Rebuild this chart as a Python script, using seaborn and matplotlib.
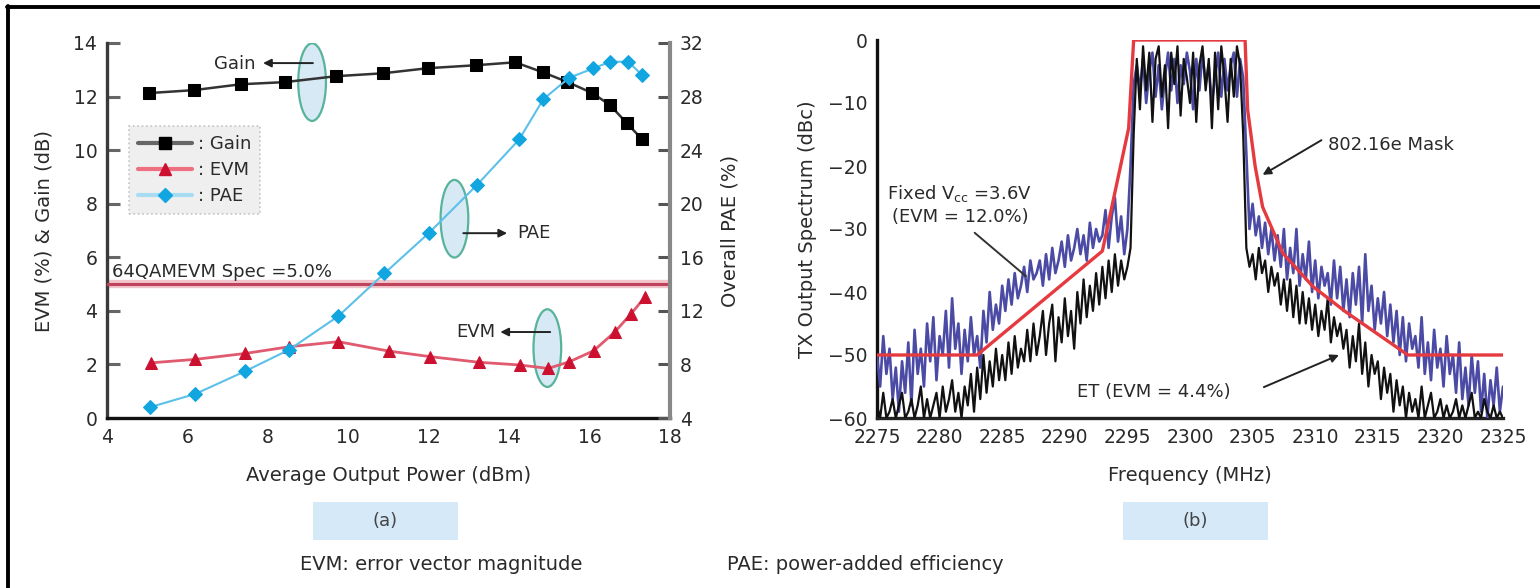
import numpy as np
import pandas as pd
import matplotlib
matplotlib.use("Agg")
import matplotlib.pyplot as plt
import seaborn as sns
from matplotlib.patches import Ellipse, Rectangle
from matplotlib.lines import Line2D

# ---------------- data: panel (a) ----------------
gain_x = [5.04, 6.16, 7.33, 8.43, 9.69, 10.87, 11.98, 13.18, 14.15, 14.85, 15.44, 16.07, 16.51, 16.93, 17.31]
gain_db = [12.13, 12.24, 12.46, 12.54, 12.76, 12.87, 13.06, 13.17, 13.28, 12.9, 12.55, 12.13, 11.68, 11.0, 10.4]

evm_x = [5.1, 6.2, 7.44, 8.53, 9.75, 11.0, 12.04, 13.25, 14.26, 14.97, 15.5, 16.1, 16.62, 17.02, 17.37]
evm_pct = [2.06, 2.19, 2.41, 2.66, 2.85, 2.5, 2.29, 2.08, 1.98, 1.85, 2.1, 2.51, 3.2, 3.87, 4.5]

pae_x = [5.06, 6.2, 7.44, 8.53, 9.75, 10.9, 12.0, 13.2, 14.25, 14.85, 15.49, 16.09, 16.51, 16.96, 17.31]
pae_pct = [4.8, 5.8, 7.5, 9.1, 11.6, 14.8, 17.8, 21.4, 24.8, 27.8, 29.4, 30.1, 30.6, 30.6, 29.6]

evm_spec = 5.0

# ---------------- data: panel (b) ----------------
freq_start, freq_step, n_pts = 2275.0, 0.25, 201
freq_mhz = freq_start + freq_step * np.arange(n_pts)

fixed_vcc_dbc = [
    -50, -55, -47, -53,  -49, -57, -52, -59,  -51, -56, -48, -58,  -46, -53, -49, -55,   # 2275-2278
    -45, -51, -44, -54,  -47, -50, -43, -52,  -41, -49, -45, -53,  -46, -51, -44, -50,   # 2279-2282
    -47, -52, -43, -48,  -40, -46, -42, -45,  -39, -43, -38, -42,  -37, -41, -39, -36,   # 2283-2286
    -40, -35, -38, -37,  -35, -39, -34, -38,  -33, -37, -35, -32,  -36, -31, -35, -33,   # 2287-2290
    -30, -34, -31, -35,  -29, -33, -30, -32,  -31, -27, -33, -28,  -25, -32, -28, -34,   # 2291-2294
    -30, -20, -7, -4,    -8, -3, -10, -5,     -2, -9, -4, -11,     -6, -2, -8, -3,       # 2295-2298
    -10, -4, -7, -2,     -5, -11, -3, -8,     -2, -7, -4, -10,     -6, -2, -9, -3,       # 2299-2302
    -8, -4, -2, -9,      -3, -6, -18, -30,    -26, -31, -28, -33,  -29, -34, -30, -35,   # 2303-2306
    -31, -36, -30, -38,  -33, -37, -30, -39,  -34, -38, -32, -40,  -35, -41, -36, -39,   # 2307-2310
    -37, -42, -35, -41,  -36, -43, -38, -44,  -37, -42, -36, -45,  -34, -43, -39, -46,   # 2311-2314
    -41, -45, -40, -47,  -42, -48, -43, -50,  -44, -51, -45, -49,  -47, -52, -44, -53,   # 2315-2318
    -48, -54, -46, -52,  -49, -55, -47, -53,  -50, -56, -48, -57,  -52, -58, -50, -56,   # 2319-2322
    -51, -59, -53, -60,  -54, -58, -52, -59,  -55,                                        # 2323-2325
]

et_dbc = [
    -58, -60, -56, -60,  -59, -57, -60, -58,  -56, -60, -59, -57,  -60, -58, -55, -60,   # 2275-2278
    -57, -60, -58, -56,  -60, -55, -59, -57,  -54, -59, -56, -60,  -55, -58, -53, -59,   # 2279-2282
    -52, -57, -50, -56,  -51, -55, -49, -54,  -50, -54, -48, -53,  -47, -52, -49, -51,   # 2283-2286
    -46, -51, -45, -50,  -47, -43, -50, -45,  -42, -51, -44, -48,  -41, -47, -43, -49,   # 2287-2290
    -40, -45, -38, -44,  -39, -43, -37, -42,  -36, -41, -35, -40,  -34, -39, -35, -38,   # 2291-2294
    -36, -33, -15, -3,   -11, -1, -8, -2,     -13, -3, -1, -9,     -4, -14, -2, -7,      # 2295-2298
    -1, -12, -3, -6,     -10, -2, -13, -4,    -1, -8, -3, -14,     -2, -11, -1, -6,      # 2299-2302
    -13, -3, -9, -1,     -4, -15, -33, -36,   -34, -38, -33, -37,  -35, -40, -36, -39,   # 2303-2306
    -37, -42, -38, -43,  -38, -44, -39, -45,  -40, -45, -41, -46,  -42, -47, -43, -46,   # 2307-2310
    -41, -48, -44, -47,  -45, -49, -46, -52,  -47, -51, -45, -53,  -48, -55, -50, -53,   # 2311-2314
    -51, -57, -52, -56,  -53, -59, -54, -58,  -55, -60, -56, -59,  -57, -60, -55, -60,   # 2315-2318
    -58, -56, -60, -59,  -57, -60, -58, -60,  -59, -57, -60, -58,  -60, -58, -56, -60,   # 2319-2322
    -59, -60, -57, -59,  -60, -58, -60, -59,  -60,                                        # 2323-2325
]

mask_f = [2275, 2283, 2293.0, 2295.1, 2295.5, 2304.4, 2304.6, 2305.2, 2305.8, 2307.4, 2309.8, 2312.4, 2317.4, 2325]
mask_db = [-50, -50, -33.5, -14, 0, 0, -11, -20, -26.5, -33.8, -39.1, -43.1, -50, -50]

# ---------------- style ----------------
sns.set_style("white")
plt.rcParams['font.family'] = ['DejaVu Sans']
TXT = '#2a2a2a'

W, H = 1540, 588
fig = plt.figure(figsize=(W / 100, H / 100), dpi=100)

def fx(px):
    return px / W

def fy(py):
    return 1 - py / H

# ---------------- panel (a) ----------------
axL = fig.add_axes([fx(107), fy(418), fx(670 - 107), (418 - 43) / H])
axP = axL.twinx()

sns.lineplot(x=gain_x, y=gain_db, ax=axL, color='#333333', lw=1.8, marker='s', markersize=9,
             markerfacecolor='black', markeredgecolor='black', estimator=None, sort=False, zorder=5)
sns.lineplot(x=evm_x, y=evm_pct, ax=axL, color='#e05a70', lw=2.0, marker='^', markersize=8,
             markerfacecolor='#cc1030', markeredgecolor='#cc1030', estimator=None, sort=False, zorder=5)
axL.axhline(evm_spec, color='#f2c4cc', lw=6, zorder=2)
axL.axhline(evm_spec, color='#c0435e', lw=2.2, zorder=3)
sns.lineplot(x=pae_x, y=pae_pct, ax=axP, color='#5cc0e8', lw=1.5, marker='D', markersize=7,
             markerfacecolor='#12a6e0', markeredgecolor='#12a6e0', estimator=None, sort=False, zorder=5)

axL.set_xlim(4, 18)
axL.set_ylim(0, 14)
axP.set_ylim(4, 32)
axL.set_xticks(range(4, 19, 2))
axL.set_yticks(range(0, 15, 2))
axP.set_yticks(range(4, 33, 4))

for s in ['top', 'right']:
    axL.spines[s].set_visible(False)
for s in ['top', 'left', 'bottom']:
    axP.spines[s].set_visible(False)
axL.spines['left'].set_color('#3a3a3a')
axL.spines['left'].set_linewidth(2.4)
axL.spines['bottom'].set_color('#111111')
axL.spines['bottom'].set_linewidth(2.4)
axP.spines['right'].set_color('#888888')
axP.spines['right'].set_linewidth(3.0)

axL.tick_params(axis='both', direction='in', length=9, width=2.2, color='#666666',
                labelsize=13.5, labelcolor=TXT, pad=7)
axL.tick_params(axis='x', color='#222222')
axP.tick_params(axis='y', direction='in', length=9, width=2.2, color='#555555',
                labelsize=13.5, labelcolor=TXT, pad=7)

axL.set_xlabel('Average Output Power (dBm)', fontsize=14, color=TXT, labelpad=14)
axL.set_ylabel('EVM (%) & Gain (dB)', fontsize=14, color=TXT, labelpad=14)
axP.set_ylabel('Overall PAE (%)', fontsize=14, color=TXT, labelpad=12, rotation=90)

# spec text
axL.text(4.12, 5.12, '64QAMEVM Spec =5.0%', fontsize=13, color=TXT, ha='left', va='bottom', zorder=6)

# ellipses and callouts
for (cx, cy) in [(9.10, 12.54), (12.64, 7.44), (14.95, 2.61)]:
    axL.add_patch(Ellipse((cx, cy), 0.69, 2.9, facecolor='#cfe6f4', edgecolor='#3fa88a',
                          lw=1.6, alpha=0.85, zorder=4))

arr = dict(arrowstyle='-|>', color='#222222', lw=1.4, mutation_scale=12, shrinkA=0, shrinkB=0)
axL.annotate('', xy=(7.88, 13.25), xytext=(9.12, 13.25), arrowprops=arr, zorder=6)
axL.text(7.70, 13.2, 'Gain', fontsize=13, color=TXT, ha='right', va='center')
axL.annotate('', xy=(13.95, 6.9), xytext=(12.86, 6.9), arrowprops=arr, zorder=6)
axL.text(14.2, 6.9, 'PAE', fontsize=13, color=TXT, ha='left', va='center')
axL.annotate('', xy=(13.78, 3.21), xytext=(15.02, 3.21), arrowprops=arr, zorder=6)
axL.text(13.65, 3.2, 'EVM', fontsize=13, color=TXT, ha='right', va='center')

# legend
handles = [
    Line2D([], [], color='#666666', lw=3, marker='s', markersize=9, mfc='black', mec='black'),
    Line2D([], [], color='#ee7080', lw=3, marker='^', markersize=8, mfc='#cc1030', mec='#cc1030'),
    Line2D([], [], color='#a8dcf2', lw=3, marker='D', markersize=7, mfc='#12a6e0', mec='#12a6e0'),
]
leg = axP.legend(handles, [': Gain', ': EVM', ': PAE'], loc='upper left',
                 bbox_to_anchor=((129 - 107) / 563, (418 - 126) / 375), borderaxespad=0,
                 fontsize=13, frameon=True, fancybox=False, handlelength=3.0,
                 handletextpad=0.3, labelspacing=0.45, borderpad=0.5)
leg.get_frame().set_facecolor('#ebebeb')
leg.get_frame().set_edgecolor('#b8b8b8')
leg.get_frame().set_linestyle(':')
leg.get_frame().set_linewidth(1.2)
for t in leg.get_texts():
    t.set_color(TXT)

# ---------------- panel (b) ----------------
axS = fig.add_axes([fx(877), fy(418), fx(1503 - 877), (418 - 40) / H])
sns.lineplot(x=freq_mhz, y=fixed_vcc_dbc, ax=axS, color='#4b4ba6', lw=1.9,
             estimator=None, sort=False, zorder=3)
sns.lineplot(x=freq_mhz, y=et_dbc, ax=axS, color='#111111', lw=1.6,
             estimator=None, sort=False, zorder=4)
sns.lineplot(x=mask_f, y=mask_db, ax=axS, color='#e53a3f', lw=2.4,
             estimator=None, sort=False, zorder=5)

axS.set_xlim(2275, 2325)
axS.set_ylim(-60, 0)
axS.set_xticks(range(2275, 2326, 5))
axS.set_yticks(range(-60, 1, 10))
for s in ['top', 'right']:
    axS.spines[s].set_visible(False)
axS.spines['left'].set_color('#111111')
axS.spines['left'].set_linewidth(2.4)
axS.spines['bottom'].set_color('#222222')
axS.spines['bottom'].set_linewidth(2.4)
axS.tick_params(axis='both', direction='in', length=9, width=2.2, color='#444444',
                labelsize=13.5, labelcolor=TXT, pad=7)
axS.set_xlabel('Frequency (MHz)', fontsize=14, color=TXT, labelpad=14)
axS.set_ylabel('TX Output Spectrum (dBc)', fontsize=14, color=TXT, labelpad=8)

axS.text(2311.0, -16.7, '802.16e Mask', fontsize=13, color=TXT, ha='left', va='center')
axS.annotate('', xy=(2305.8, -21.4), xytext=(2310.5, -15.9), arrowprops=arr, zorder=6)
axS.text(2275.8, -24.3, r'Fixed V$_{\rm cc}$ =3.6V', fontsize=13, color=TXT, ha='left', va='center')
axS.text(2276.2, -28.1, '(EVM = 12.0%)', fontsize=13, color=TXT, ha='left', va='center')
axS.plot([2282.8, 2286.9], [-30.6, -37.5], color='#333333', lw=1.4, zorder=6)
axS.text(2291.0, -55.9, 'ET (EVM = 4.4%)', fontsize=13, color=TXT, ha='left', va='center')
axS.annotate('', xy=(2311.9, -50.0), xytext=(2305.9, -55.1), arrowprops=arr, zorder=6)

# ---------------- captions and frame ----------------
for x0 in (313, 1123):
    fig.patches.append(Rectangle((fx(x0), fy(540)), fx(145), 38 / H, transform=fig.transFigure,
                                 facecolor='#d6e9f8', edgecolor='none', zorder=0))
fig.text(fx(385), fy(521), '(a)', fontsize=13, color='#444444', ha='center', va='center')
fig.text(fx(1195), fy(521), '(b)', fontsize=13, color='#444444', ha='center', va='center')
fig.text(fx(300), fy(565), 'EVM: error vector magnitude', fontsize=14, color=TXT, ha='left', va='center')
fig.text(fx(727), fy(565), 'PAE: power-added efficiency', fontsize=14, color=TXT, ha='left', va='center')

fig.add_artist(Line2D([fx(7), 1.0], [fy(7), fy(7)], transform=fig.transFigure, color='black', lw=2.8))
fig.add_artist(Line2D([fx(8), fx(8)], [fy(6), 0.0], transform=fig.transFigure, color='black', lw=2.8))

fig.savefig('out.png', dpi=100)
